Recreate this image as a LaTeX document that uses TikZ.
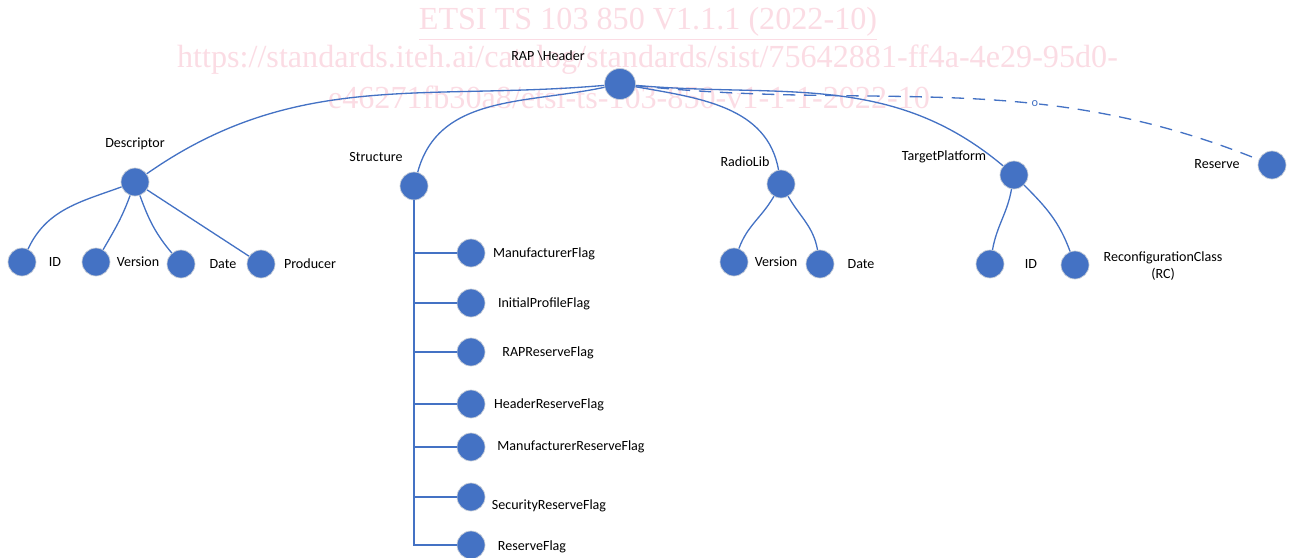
\documentclass[tikz,border=0pt]{standalone}
\usepackage{fontspec}
\setmainfont{Carlito}
\newfontfamily\wmfont{Liberation Serif}
\usetikzlibrary{positioning}
\definecolor{nodeBlue}{HTML}{4472C4}
\definecolor{nodeRim}{HTML}{C9CFD8}
\definecolor{markPink}{HTML}{FBDCE4}

\begin{document}
\begin{tikzpicture}[
    dot/.style={circle, fill=nodeBlue, draw=nodeRim, line width=0.4pt, minimum size=0.56cm, inner sep=0pt},
    lbl/.style={font=\fontsize{8}{9.5}\selectfont, text=black, align=center, inner sep=1pt},
    link/.style={draw=nodeBlue, line width=0.75pt},
    watermark/.style={font=\wmfont\fontsize{18.3}{20}\selectfont, text=markPink, inner sep=0pt},
]
\useasboundingbox (0,0) rectangle (25.78,-11.14);
\node[watermark] (wmTitle) at (12.96,-0.48) {\underline{ETSI TS 103 850 V1.1.1 (2022-10)}};
\node[watermark] (wmUrlA) at (12.95,-1.20) {https://standards.iteh.ai/catalog/standards/sist/75642881-ff4a-4e29-95d0-};
\node[watermark] (wmUrlB) at (12.58,-1.94) {e46271fb30a8/etsi-ts-103-850-v1-1-1-2022-10};

\node[dot, minimum size=0.62cm] (root) at (12.40,-1.68) {};
\node[lbl] (rootLbl) at (10.96,-1.12) {RAP \textbackslash Header};

\node[dot] (desc) at (2.70,-3.64) {};
\node[lbl] (descLbl) at (2.70,-2.88) {Descriptor};
\node[dot] (struct) at (8.28,-3.72) {};
\node[lbl] (structLbl) at (7.52,-3.14) {Structure};
\node[dot] (radio) at (15.62,-3.68) {};
\node[lbl] (radioLbl) at (14.90,-3.24) {RadioLib};
\node[dot] (target) at (20.28,-3.50) {};
\node[lbl] (targetLbl) at (18.88,-3.14) {TargetPlatform};
\node[dot] (reserve) at (25.44,-3.30) {};
\node[lbl] (reserveLbl) at (24.34,-3.28) {Reserve};

\node[dot] (descId) at (0.44,-5.24) {};
\node[lbl] (descIdLbl) at (1.10,-5.24) {ID};
\node[dot] (descVer) at (1.92,-5.24) {};
\node[lbl] (descVerLbl) at (2.76,-5.24) {Version};
\node[dot] (descDate) at (3.62,-5.28) {};
\node[lbl] (descDateLbl) at (4.46,-5.28) {Date};
\node[dot] (descProd) at (5.22,-5.28) {};
\node[lbl] (descProdLbl) at (6.20,-5.28) {Producer};

\node[dot] (radioVer) at (14.68,-5.24) {};
\node[lbl] (radioVerLbl) at (15.52,-5.24) {Version};
\node[dot] (radioDate) at (16.40,-5.28) {};
\node[lbl] (radioDateLbl) at (17.22,-5.28) {Date};

\node[dot] (targetId) at (19.80,-5.28) {};
\node[lbl] (targetIdLbl) at (20.62,-5.28) {ID};
\node[dot] (targetRc) at (21.50,-5.30) {};
\node[lbl] (targetRcLbl) at (23.26,-5.32) {ReconfigurationClass\\(RC)};

\node[dot] (flagMan) at (9.42,-5.06) {};
\node[lbl] (flagManLbl) at (10.88,-5.08) {ManufacturerFlag};
\node[dot] (flagInit) at (9.42,-6.06) {};
\node[lbl] (flagInitLbl) at (10.88,-6.08) {InitialProfileFlag};
\node[dot] (flagRap) at (9.42,-7.04) {};
\node[lbl] (flagRapLbl) at (10.96,-7.06) {RAPReserveFlag};
\node[dot] (flagHead) at (9.42,-8.08) {};
\node[lbl] (flagHeadLbl) at (10.98,-8.10) {HeaderReserveFlag};
\node[dot] (flagManRes) at (9.42,-8.94) {};
\node[lbl] (flagManResLbl) at (11.42,-8.94) {ManufacturerReserveFlag};
\node[dot] (flagSec) at (9.42,-9.94) {};
\node[lbl] (flagSecLbl) at (10.98,-10.12) {SecurityReserveFlag};
\node[dot] (flagRes) at (9.42,-10.90) {};
\node[lbl] (flagResLbl) at (10.64,-10.94) {ReserveFlag};

\draw[link] (root) to[out=185, in=35] (desc);
\draw[link] (root) to[out=192, in=75] (struct);
\draw[link] (root) to[out=-10, in=100] (radio);
\draw[link] (root) to[out=-5, in=140] (target);
\draw[link, dashed, dash pattern=on 7pt off 5pt] (root) to[out=-6, in=158]
    node[pos=0.64, fill=white, inner sep=0.5pt, text=nodeBlue, font=\fontsize{7}{8}\selectfont] (optMark) {o} (reserve);

\draw[link] (desc) to[out=200, in=65] (descId);
\draw[link] (desc) to[out=250, in=60] (descVer);
\draw[link] (desc) to[out=-70, in=130] (descDate);
\draw[link] (desc) -- (descProd);

\draw[link] (radio) to[out=240, in=70] (radioVer);
\draw[link] (radio) to[out=-60, in=100] (radioDate);
\draw[link] (target) to[out=-100, in=80] (targetId);
\draw[link] (target) to[out=-45, in=110] (targetRc);

\draw[link] (struct) -- (struct |- flagRes) -- (flagRes);
\draw[link] (struct |- flagMan) -- (flagMan);
\draw[link] (struct |- flagInit) -- (flagInit);
\draw[link] (struct |- flagRap) -- (flagRap);
\draw[link] (struct |- flagHead) -- (flagHead);
\draw[link] (struct |- flagManRes) -- (flagManRes);
\draw[link] (struct |- flagSec) -- (flagSec);
\end{tikzpicture}
\end{document}
